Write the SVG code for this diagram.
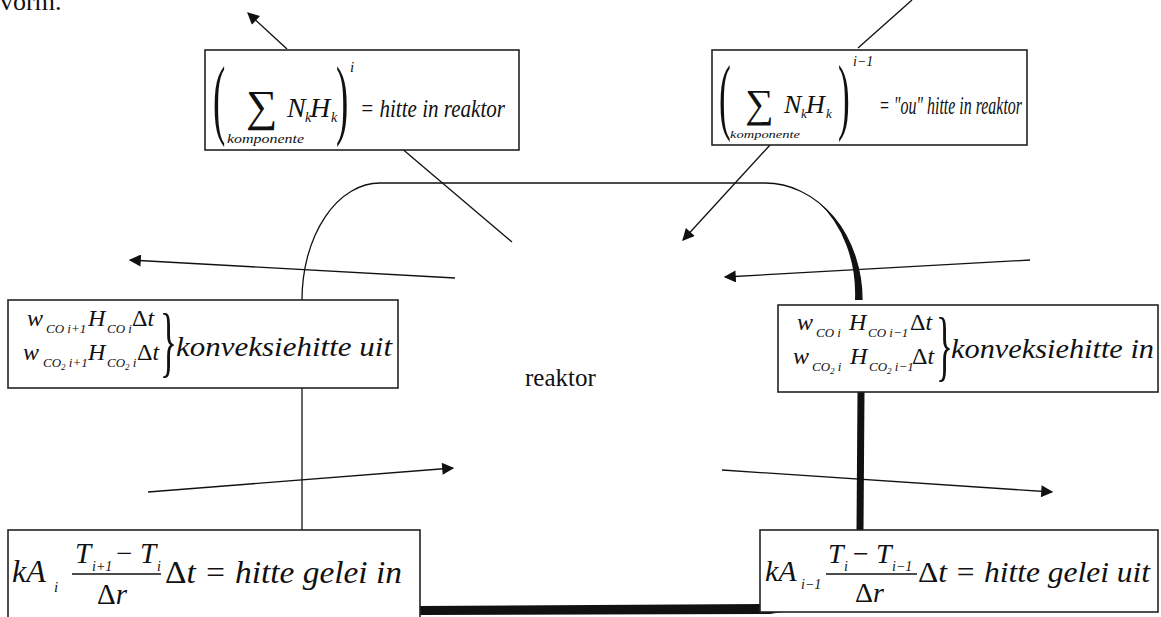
<svg xmlns="http://www.w3.org/2000/svg" width="1161" height="617" viewBox="0 0 1161 617" font-family="'Liberation Serif', 'DejaVu Serif', serif">
<style>
.m{font-family:'Liberation Serif','DejaVu Serif',serif;font-style:italic;fill:#111}
.u{font-family:'Liberation Serif','DejaVu Serif',serif;font-style:normal;fill:#111}
.box{fill:#fff;stroke:#222;stroke-width:1.6}
.ln{fill:none;stroke:#111;stroke-width:1.3}
.th{fill:none;stroke:#111;stroke-width:7}
</style>
<defs>
<marker id="ah" viewBox="0 0 10 10" refX="9" refY="5" markerWidth="19" markerHeight="12" markerUnits="userSpaceOnUse" orient="auto">
<path d="M0,0 L10,5 L0,10 Z" fill="#111"/>
</marker>
</defs>
<rect width="1161" height="617" fill="#fff"/>
<text class="u" x="0" y="10" font-size="26">vorm.</text>

<g id="reaktor">
<path class="ln" d="M302,300 A78,117 0 0 1 380,183 L765,183 A97,117 0 0 1 862,300"/>
<path d="M818,202 A97,117 0 0 1 862,300 L855,300 A91,114 0 0 0 818,202 Z" fill="#111"/>
<line class="ln" x1="302" y1="388" x2="302" y2="530"/>
<line class="th" x1="861" y1="392" x2="860" y2="530"/>
<path d="M420,606 L770,604 L800,609 L770,614 L420,615 Z" fill="#111"/>
<text class="u" x="525" y="386" font-size="25">reaktor</text>
</g>

<g id="connectors">
<line class="ln" x1="287" y1="49" x2="248" y2="13" marker-end="url(#ah)"/>
<line class="ln" x1="400" y1="147" x2="512" y2="242"/>
<line class="ln" x1="858" y1="48" x2="912" y2="0"/>
<line class="ln" x1="770" y1="145" x2="683" y2="240" marker-end="url(#ah)"/>
<line class="ln" x1="455" y1="278" x2="130" y2="260" marker-end="url(#ah)"/>
<line class="ln" x1="1030" y1="260" x2="725" y2="277" marker-end="url(#ah)"/>
<line class="ln" x1="148" y1="492" x2="453" y2="468" marker-end="url(#ah)"/>
<line class="ln" x1="722" y1="470" x2="1052" y2="492" marker-end="url(#ah)"/>
</g>

<g id="hitte-in-reaktor">
<rect class="box" x="205" y="50" width="314" height="100"/>
<text class="u" font-size="88" transform="translate(213,128) scale(0.42,1)">(</text>
<text class="u" x="246" y="121" font-size="44">∑</text>
<text class="m" x="287" y="117" font-size="28">N</text>
<text class="m" x="305" y="122" font-size="14">k</text>
<text class="m" x="310" y="117" font-size="28">H</text>
<text class="m" x="331" y="122" font-size="14">k</text>
<text class="u" font-size="88" transform="translate(336,128) scale(0.42,1)">)</text>
<text class="m" x="350" y="72" font-size="15">i</text>
<text class="m" x="360" y="117" font-size="26" textLength="145" lengthAdjust="spacingAndGlyphs">= hitte in reaktor</text>
<text class="m" x="227" y="143" font-size="12" textLength="77" lengthAdjust="spacingAndGlyphs">komponente</text>
</g>

<g id="ou-hitte-in-reaktor">
<rect class="box" x="712" y="50" width="315" height="95"/>
<text class="u" font-size="84" transform="translate(719,124) scale(0.42,1)">(</text>
<text class="u" x="745" y="117" font-size="40">∑</text>
<text class="m" x="784" y="113" font-size="26">N</text>
<text class="m" x="801" y="118" font-size="13">k</text>
<text class="m" x="806" y="113" font-size="26">H</text>
<text class="m" x="826" y="118" font-size="13">k</text>
<text class="u" font-size="84" transform="translate(838,124) scale(0.42,1)">)</text>
<text class="m" x="853" y="66" font-size="14">i−1</text>
<text class="m" x="879" y="114" font-size="25" textLength="143" lengthAdjust="spacingAndGlyphs">= "ou" hitte in reaktor</text>
<text class="m" x="730" y="138" font-size="11" textLength="70" lengthAdjust="spacingAndGlyphs">komponente</text>
</g>

<g id="konveksiehitte-uit">
<rect class="box" x="8" y="300" width="390" height="88"/>
<text class="m" x="27" y="326" font-size="24">w</text>
<text class="m" x="46" y="333" font-size="13">CO i+1</text>
<text class="m" x="88" y="326" font-size="24">H</text>
<text class="m" x="107" y="333" font-size="13">CO i</text>
<text class="m" x="132" y="326" font-size="24"><tspan class="u">Δ</tspan>t</text>
<text class="m" x="23" y="360" font-size="24">w</text>
<text class="m" x="43" y="367" font-size="13">CO<tspan font-size="9" dy="3">2</tspan><tspan dy="-3"> i+1</tspan></text>
<text class="m" x="88" y="360" font-size="24">H</text>
<text class="m" x="107" y="367" font-size="13">CO<tspan font-size="9" dy="3">2</tspan><tspan dy="-3"> i</tspan></text>
<text class="m" x="137" y="360" font-size="24"><tspan class="u">Δ</tspan>t</text>
<text class="u" font-size="78" transform="translate(160,368) scale(0.45,1)">}</text>
<text class="m" x="176" y="356" font-size="28" textLength="216" lengthAdjust="spacingAndGlyphs">konveksiehitte uit</text>
</g>

<g id="konveksiehitte-in">
<rect class="box" x="778" y="305" width="380" height="87"/>
<text class="m" x="797" y="330" font-size="24">w</text>
<text class="m" x="816" y="337" font-size="13">CO i</text>
<text class="m" x="849" y="330" font-size="24">H</text>
<text class="m" x="868" y="337" font-size="13">CO i−1</text>
<text class="m" x="910" y="330" font-size="24"><tspan class="u">Δ</tspan>t</text>
<text class="m" x="793" y="364" font-size="24">w</text>
<text class="m" x="812" y="371" font-size="13">CO<tspan font-size="9" dy="3">2</tspan><tspan dy="-3"> i</tspan></text>
<text class="m" x="850" y="364" font-size="24">H</text>
<text class="m" x="869" y="371" font-size="13">CO<tspan font-size="9" dy="3">2</tspan><tspan dy="-3"> i−1</tspan></text>
<text class="m" x="912" y="364" font-size="24"><tspan class="u">Δ</tspan>t</text>
<text class="u" font-size="78" transform="translate(936,372) scale(0.45,1)">}</text>
<text class="m" x="951" y="358" font-size="28" textLength="203" lengthAdjust="spacingAndGlyphs">konveksiehitte in</text>
</g>

<g id="hitte-gelei-in">
<rect class="box" x="8" y="530" width="412" height="95"/>
<text class="m" x="12" y="582" font-size="32">kA</text>
<text class="m" x="54" y="592" font-size="15">i</text>
<text class="m" x="75" y="563" font-size="29">T</text>
<text class="m" x="92" y="571" font-size="14">i+1</text>
<text class="u" x="116" y="563" font-size="29">−</text>
<text class="m" x="140" y="563" font-size="29">T</text>
<text class="m" x="157" y="571" font-size="14">i</text>
<line x1="72" y1="574" x2="161" y2="574" stroke="#111" stroke-width="1.5"/>
<text class="m" x="97" y="604" font-size="29"><tspan class="u">Δ</tspan>r</text>
<text class="m" x="165" y="583" font-size="32" textLength="237" lengthAdjust="spacingAndGlyphs"><tspan class="u">Δ</tspan>t = hitte gelei  in</text>
</g>

<g id="hitte-gelei-uit">
<rect class="box" x="760" y="530" width="398" height="82"/>
<text class="m" x="765" y="581" font-size="30">kA</text>
<text class="m" x="801" y="589" font-size="14">i−1</text>
<text class="m" x="828" y="563" font-size="28">T</text>
<text class="m" x="844" y="571" font-size="14">i</text>
<text class="u" x="853" y="563" font-size="28">−</text>
<text class="m" x="876" y="563" font-size="28">T</text>
<text class="m" x="892" y="571" font-size="14">i−1</text>
<line x1="826" y1="574" x2="917" y2="574" stroke="#111" stroke-width="1.5"/>
<text class="m" x="855" y="602" font-size="28"><tspan class="u">Δ</tspan>r</text>
<text class="m" x="918" y="582" font-size="30" textLength="232" lengthAdjust="spacingAndGlyphs"><tspan class="u">Δ</tspan>t = hitte gelei uit</text>
</g>
</svg>
